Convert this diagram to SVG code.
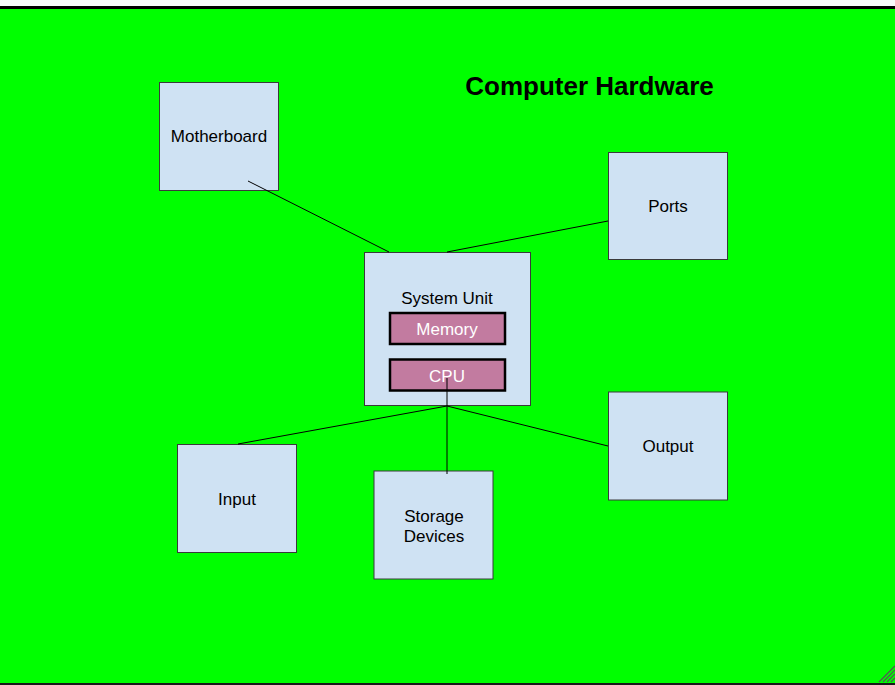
<svg xmlns="http://www.w3.org/2000/svg" width="895" height="685" viewBox="0 0 895 685">
<style>
.box{fill:#cfe2f3;stroke:#3a3a3a;stroke-width:1}
.chip{fill:#c27ba0;stroke:#000;stroke-width:2.5}
.lbl{font-family:"Liberation Sans",Arial,sans-serif;font-size:17px;fill:#000;text-anchor:middle}
.wlbl{font-family:"Liberation Sans",Arial,sans-serif;font-size:17px;fill:#fff;text-anchor:middle}
.title{font-family:"Liberation Sans",Arial,sans-serif;font-size:26px;font-weight:bold;fill:#000;text-anchor:middle}
.conn{stroke:#000;stroke-width:1;fill:none}
.grip{stroke:#555;stroke-width:1.2}
</style>
<rect x="0" y="0" width="895" height="685" fill="#f8f9fb"/>
<rect x="0" y="9" width="895" height="674" fill="#00ff00"/>
<rect x="0" y="6" width="895" height="3" fill="#000"/>
<rect x="0" y="683" width="895" height="2" fill="#1a1a1a"/>
<g id="grip">
<line class="grip" x1="879" y1="682" x2="895" y2="666"/>
<line class="grip" x1="883" y1="682" x2="895" y2="670"/>
<line class="grip" x1="887" y1="682" x2="895" y2="674"/>
<line class="grip" x1="891" y1="682" x2="895" y2="678"/>
</g>
<text class="title" x="589.5" y="95">Computer Hardware</text>
<g id="motherboard">
<rect class="box" x="159.5" y="82.5" width="119" height="108"/>
<text class="lbl" x="219" y="142">Motherboard</text>
</g>
<g id="ports">
<rect class="box" x="608.5" y="152.5" width="119" height="107"/>
<text class="lbl" x="668" y="212">Ports</text>
</g>
<g id="system-unit">
<rect class="box" x="364.5" y="252.5" width="166" height="153"/>
<text class="lbl" x="447" y="304">System Unit</text>
<g id="memory">
<rect class="chip" x="390" y="313" width="115" height="31"/>
<text class="wlbl" x="447" y="335">Memory</text>
</g>
<g id="cpu">
<rect class="chip" x="390" y="359.5" width="115" height="31"/>
<text class="wlbl" x="447" y="382">CPU</text>
</g>
</g>
<g id="output">
<rect class="box" x="608.5" y="392" width="119" height="108"/>
<text class="lbl" x="668" y="452">Output</text>
</g>
<g id="input">
<rect class="box" x="177.5" y="444.5" width="119" height="108"/>
<text class="lbl" x="237" y="505">Input</text>
</g>
<g id="storage">
<rect class="box" x="374" y="471" width="119" height="108"/>
<text class="lbl" x="434" y="522">Storage</text>
<text class="lbl" x="434" y="542">Devices</text>
</g>
<g id="connectors">
<line class="conn" x1="248" y1="181" x2="389" y2="252"/>
<line class="conn" x1="447" y1="252" x2="608" y2="221"/>
<line class="conn" x1="447" y1="406" x2="238" y2="444"/>
<line class="conn" x1="447" y1="406" x2="608" y2="446"/>
<line class="conn" x1="447" y1="378" x2="447" y2="474"/>
</g>
</svg>
